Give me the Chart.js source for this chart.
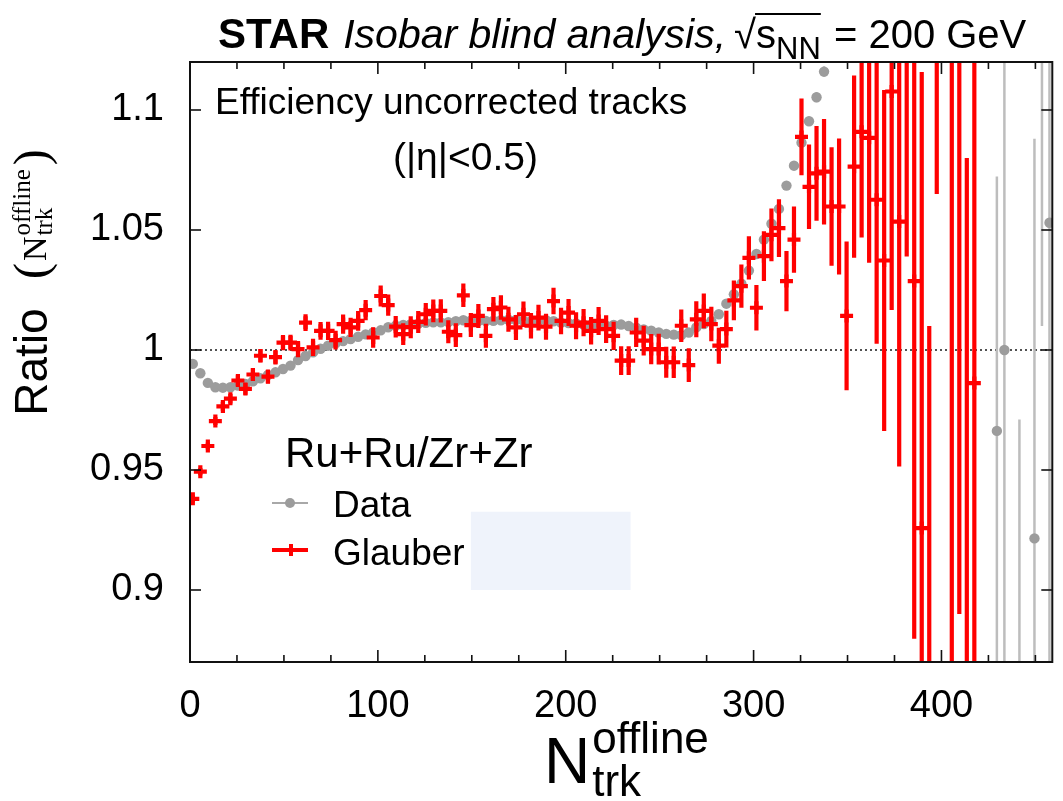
<!DOCTYPE html>
<html>
<head>
<meta charset="utf-8">
<title>Isobar multiplicity ratio</title>
<script src="https://cdn.jsdelivr.net/npm/chart.js@4.4.1/dist/chart.umd.min.js"></script>
<style>
  html, body { margin: 0; padding: 0; background: #ffffff; }
  #box { position: relative; width: 1063px; height: 801px; }
</style>
</head>
<body>
<div id="box"><canvas id="ratioChart" width="1063" height="801"></canvas></div>
<script>
// Bin centres in N_trk^offline (4-track bins)
const nTrkBins = [
  1.5, 5.5, 9.5, 13.5, 17.5, 21.5, 25.5, 29.5, 33.5, 37.5,
  41.5, 45.5, 49.5, 53.5, 57.5, 61.5, 65.5, 69.5, 73.5, 77.5,
  81.5, 85.5, 89.5, 93.5, 97.5, 101.5, 105.5, 109.5, 113.5, 117.5,
  121.5, 125.5, 129.5, 133.5, 137.5, 141.5, 145.5, 149.5, 153.5, 157.5,
  161.5, 165.5, 169.5, 173.5, 177.5, 181.5, 185.5, 189.5, 193.5, 197.5,
  201.5, 205.5, 209.5, 213.5, 217.5, 221.5, 225.5, 229.5, 233.5, 237.5,
  241.5, 245.5, 249.5, 253.5, 257.5, 261.5, 265.5, 269.5, 273.5, 277.5,
  281.5, 285.5, 289.5, 293.5, 297.5, 301.5, 305.5, 309.5, 313.5, 317.5,
  321.5, 325.5, 329.5, 333.5, 337.5, 341.5, 345.5, 349.5, 353.5, 357.5,
  361.5, 365.5, 369.5, 373.5, 377.5, 381.5, 385.5, 389.5, 393.5, 397.5,
  401.5, 405.5, 409.5, 413.5, 417.5, 421.5, 425.5, 429.5, 433.5, 437.5,
  441.5, 445.5, 449.5, 453.5, 457.5
];

// Ru+Ru / Zr+Zr ratio, measured
const dataRatio = [
  0.9942, 0.9903, 0.9863, 0.9845, 0.9843, 0.9845, 0.9852, 0.9859, 0.9870, 0.9882,
  0.9896, 0.9907, 0.9921, 0.9935, 0.9958, 0.9975, 0.9990, 1.0005, 1.0018, 1.0028,
  1.0037, 1.0046, 1.0055, 1.0065, 1.0073, 1.0082, 1.0095, 1.0101, 1.0104, 1.0108,
  1.0110, 1.0113, 1.0115, 1.0115, 1.0116, 1.0120, 1.0124, 1.0122, 1.0121, 1.0121,
  1.0122, 1.0124, 1.0126, 1.0125, 1.0122, 1.0120, 1.0122, 1.0124, 1.0120, 1.0114,
  1.0112, 1.0111, 1.0106, 1.0104, 1.0102, 1.0101, 1.0104, 1.0106, 1.0100, 1.0093,
  1.0086, 1.0080, 1.0073, 1.0067, 1.0064, 1.0062, 1.0073, 1.0094, 1.0108, 1.0121,
  1.0149, 1.0193, 1.0232, 1.0276, 1.0331, 1.0400, 1.0460, 1.0526, 1.0588, 1.0685,
  1.0768, 1.0864, 1.0953, 1.1053, 1.1160, null, null, null, null, null,
  null, null, null, null, null, null, null, null, null, null,
  null, null, null, null, null, null, null, 0.9663, 1.0000, null,
  0.8500, null, 0.9215, 1.1400, 1.0530
];
const dataErr = [
  0.001, 0.001, 0.001, 0.001, 0.001, 0.001, 0.001, 0.001, 0.001, 0.001,
  0.001, 0.001, 0.001, 0.001, 0.001, 0.001, 0.001, 0.001, 0.001, 0.001,
  0.001, 0.001, 0.001, 0.001, 0.001, 0.001, 0.001, 0.001, 0.001, 0.001,
  0.001, 0.001, 0.001, 0.001, 0.001, 0.001, 0.001, 0.001, 0.001, 0.001,
  0.001, 0.001, 0.001, 0.001, 0.001, 0.001, 0.001, 0.001, 0.001, 0.001,
  0.001, 0.001, 0.001, 0.001, 0.001, 0.001, 0.001, 0.001, 0.001, 0.001,
  0.0012, 0.0012, 0.0012, 0.0012, 0.0012, 0.0012, 0.0012, 0.0012, 0.0012, 0.0012,
  0.0014, 0.0014, 0.0014, 0.0014, 0.0015, 0.0015, 0.0015, 0.0016, 0.0016, 0.0017,
  0.0018, 0.0019, 0.002, 0.0021, 0.0022, null, null, null, null, null,
  null, null, null, null, null, null, null, null, null, null,
  null, null, null, null, null, null, null, 0.106, 0.200, null,
  0.121, null, 0.1665, 0.130, 0.200
];

// Glauber model expectation
const glauberRatio = [
  0.9380, 0.9493, 0.9600, 0.9704, 0.9765, 0.9797, 0.9873, 0.9838, 0.9898, 0.9976,
  0.9889, 0.9970, 1.0031, 1.0031, 1.0004, 1.0114, 1.0011, 1.0080, 1.0080, 1.0041,
  1.0108, 1.0094, 1.0121, 1.0166, 1.0052, 1.0225, 1.0187, 1.0097, 1.0066, 1.0095,
  1.0117, 1.0149, 1.0163, 1.0163, 1.0076, 1.0062, 1.0228, 1.0104, 1.0142, 1.0059,
  1.0170, 1.0177, 1.0128, 1.0094, 1.0149, 1.0101, 1.0135, 1.0097, 1.0204, 1.0121,
  1.0156, 1.0101, 1.0114, 1.0080, 1.0121, 1.0087, 1.0059, 0.9956, 0.9956, 1.0073,
  1.0039, 1.0004, 1.0004, 0.9949, 0.9949, 1.0101, 0.9937, 1.0128, 1.0163, 1.0108,
  1.0018, 1.0087, 1.0207, 1.0266, 1.0384, 1.0176, 1.0391, 1.0480, 1.0508, 1.0287,
  1.0460, 1.0888, 1.0680, 1.0736, 1.0743, 1.0598, 1.0598, 1.0142, 1.0764, 1.0909,
  1.0884, 1.0626, 1.0373, 1.1077, 1.0535, 1.1500, 1.0287, 0.9258, 0.8100, 1.2600,
  null, 1.1600, 1.1500, 0.8300, 0.9862, null, null, null, null, null,
  null, null, null, null, null
];
const glauberErr = [
  0.0015, 0.0015, 0.0015, 0.0017, 0.0018, 0.0020, 0.0022, 0.0024, 0.0026, 0.0028,
  0.0030, 0.0030, 0.0032, 0.0033, 0.0034, 0.0035, 0.0036, 0.0037, 0.0038, 0.0039,
  0.0040, 0.0040, 0.0041, 0.0042, 0.0043, 0.0044, 0.0044, 0.0045, 0.0045, 0.0046,
  0.0046, 0.0047, 0.0047, 0.0048, 0.0048, 0.0049, 0.0049, 0.0050, 0.0050, 0.0050,
  0.0051, 0.0051, 0.0052, 0.0052, 0.0053, 0.0053, 0.0054, 0.0054, 0.0055, 0.0055,
  0.0056, 0.0056, 0.0057, 0.0057, 0.0058, 0.0058, 0.0059, 0.0060, 0.0060, 0.0061,
  0.0062, 0.0063, 0.0064, 0.0065, 0.0066, 0.0068, 0.0070, 0.0075, 0.0072, 0.0072,
  0.0075, 0.0077, 0.0083, 0.0090, 0.0090, 0.0095, 0.0104, 0.0110, 0.0120, 0.0126,
  0.0138, 0.0160, 0.0176, 0.0197, 0.0220, 0.0247, 0.0283, 0.0310, 0.0380, 0.0440,
  0.0520, 0.0600, 0.0710, 0.0910, 0.1020, 0.1110, 0.1490, 0.1900, 0.2000, 0.1950,
  null, 0.3600, 0.2600, 0.2500, 0.3000, null, null, null, null, null,
  null, null, null, null, null
];

// Axis ticks
const xMajorTicks = [0, 100, 200, 300, 400];
const xMinorTicks = [25, 50, 75, 125, 150, 175, 225, 250, 275, 325, 350, 375, 425, 450];
const yMajorTicks = [0.9, 0.95, 1, 1.05, 1.1];

const SANS = "'Liberation Sans', Arial, Helvetica, sans-serif";
const SERIF = "'Liberation Serif', 'Times New Roman', serif";
const RED = '#ff0000';
const GREY = '#9c9c9c';

const toPoints = (ys) => nTrkBins.map((x, i) => ({ x: x, y: ys[i] }));

// Vertical error bars, drawn under each dataset's markers
const errorBars = {
  id: 'errorBars',
  beforeDatasetDraw(chart, args) {
    const ds = chart.data.datasets[args.index];
    if (!ds.yErrors) return;
    const { ctx, chartArea: a, scales: { x, y } } = chart;
    ctx.save();
    ctx.beginPath();
    ctx.rect(a.left, a.top, a.right - a.left, a.bottom - a.top);
    ctx.clip();
    ctx.strokeStyle = ds.errorColor;
    ctx.lineWidth = ds.errorWidth;
    ctx.lineCap = 'butt';
    ds.data.forEach((p, i) => {
      const e = ds.yErrors[i];
      if (p.y === null || e === null || e === undefined) return;
      const px = x.getPixelForValue(p.x);
      ctx.beginPath();
      ctx.moveTo(px, y.getPixelForValue(p.y - e));
      ctx.lineTo(px, y.getPixelForValue(p.y + e));
      ctx.stroke();
    });
    ctx.restore();
  }
};

// Frame, inward ticks, unity reference line, shaded box
const frame = {
  id: 'frame',
  beforeDatasetsDraw(chart) {
    const { ctx, chartArea: a, scales: { x, y } } = chart;
    ctx.save();
    // shaded box
    ctx.fillStyle = '#eff3fb';
    const bx0 = x.getPixelForValue(149.5), bx1 = x.getPixelForValue(234.5);
    const by0 = y.getPixelForValue(0.9326), by1 = y.getPixelForValue(0.9);
    ctx.fillRect(bx0, by0, bx1 - bx0, by1 - by0);
    // dotted line at unity
    ctx.strokeStyle = '#1a1a1a';
    ctx.lineWidth = 1.4;
    ctx.setLineDash([2, 3]);
    const y1 = y.getPixelForValue(1);
    ctx.beginPath();
    ctx.moveTo(a.left, y1);
    ctx.lineTo(a.right, y1);
    ctx.stroke();
    ctx.restore();
  },
  afterDraw(chart) {
    const { ctx, chartArea: a, scales: { x, y } } = chart;
    ctx.save();
    ctx.strokeStyle = '#111';
    ctx.lineWidth = 2;
    ctx.strokeRect(a.left, a.top, a.right - a.left, a.bottom - a.top);
    ctx.lineWidth = 1.6;
    const tick = (x0, y0, x1, y1) => { ctx.beginPath(); ctx.moveTo(x0, y0); ctx.lineTo(x1, y1); ctx.stroke(); };
    xMajorTicks.forEach(v => {
      const px = x.getPixelForValue(v);
      tick(px, a.bottom, px, a.bottom - 12);
      tick(px, a.top, px, a.top + 12);
    });
    xMinorTicks.forEach(v => {
      const px = x.getPixelForValue(v);
      tick(px, a.bottom, px, a.bottom - 7);
      tick(px, a.top, px, a.top + 7);
    });
    yMajorTicks.forEach(v => {
      const py = y.getPixelForValue(v);
      tick(a.left, py, a.left + 11, py);
      tick(a.right, py, a.right - 11, py);
    });
    ctx.restore();
  }
};

// Titles, annotation text and legend
const texts = {
  id: 'texts',
  afterDraw(chart) {
    const { ctx } = chart;
    ctx.save();
    ctx.fillStyle = '#000';
    ctx.textAlign = 'left';
    ctx.textBaseline = 'alphabetic';

    // header
    let cx = 218;
    const base = 48;
    ctx.font = 'bold 42px ' + SANS;
    ctx.fillText('STAR', cx, base);
    cx += ctx.measureText('STAR').width + 14;
    ctx.font = 'italic 41px ' + SANS;
    ctx.fillText('Isobar blind analysis,', cx, base);
    cx += ctx.measureText('Isobar blind analysis,').width + 8;
    ctx.font = '40px ' + SANS;
    ctx.fillText('\u221A', cx, base);
    const rootW = ctx.measureText('\u221A').width;
    const barStart = cx + rootW - 1;
    cx += rootW;
    ctx.fillText('s', cx, base);
    cx += ctx.measureText('s').width;
    ctx.font = '31px ' + SANS;
    ctx.fillText('NN', cx, base + 11);
    cx += ctx.measureText('NN').width;
    ctx.lineWidth = 2;
    ctx.strokeStyle = '#000';
    ctx.beginPath();
    ctx.moveTo(barStart, base - 34);
    ctx.lineTo(cx, base - 34);
    ctx.stroke();
    ctx.font = '40px ' + SANS;
    ctx.fillText(' = 200 GeV', cx + 2, base);

    // annotation inside the frame
    ctx.font = '37px ' + SANS;
    ctx.fillText('Efficiency uncorrected tracks', 215, 114);
    ctx.font = '39px ' + SANS;
    ctx.fillText('(|\u03B7|<0.5)', 393, 170);

    // legend
    const [dataSet, glauberSet] = chart.data.datasets;
    ctx.font = '42px ' + SANS;
    ctx.fillText('Ru+Ru/Zr+Zr', 285, 467);
    ctx.font = '37px ' + SANS;
    ctx.fillText(dataSet.label, 333, 517);
    ctx.fillText(glauberSet.label, 333, 565);
    ctx.strokeStyle = '#a8a8a8';
    ctx.lineWidth = 2;
    ctx.beginPath(); ctx.moveTo(272, 503); ctx.lineTo(308, 503); ctx.stroke();
    ctx.fillStyle = GREY;
    ctx.beginPath(); ctx.arc(290, 503, 5, 0, Math.PI * 2); ctx.fill();
    ctx.strokeStyle = RED;
    ctx.lineWidth = 4;
    ctx.beginPath(); ctx.moveTo(272, 550); ctx.lineTo(308, 550); ctx.stroke();
    ctx.beginPath(); ctx.moveTo(291, 544); ctx.lineTo(291, 556); ctx.stroke();

    // x-axis title: N_trk^offline
    ctx.fillStyle = '#000';
    ctx.font = '64px ' + SANS;
    ctx.fillText('N', 544, 783);
    const nW = ctx.measureText('N').width;
    ctx.font = '44px ' + SANS;
    ctx.fillText('offline', 546 + nW, 753);
    ctx.fillText('trk', 546 + nW, 796);

    // y-axis title: Ratio (N_trk^offline)
    ctx.save();
    ctx.translate(47, 362);
    ctx.rotate(-Math.PI / 2);
    ctx.textAlign = 'center';
    ctx.font = '46px ' + SANS;
    ctx.fillText('Ratio', 0, 0);
    ctx.restore();

    ctx.save();
    ctx.translate(47, 279);
    ctx.rotate(-Math.PI / 2);
    ctx.textAlign = 'left';
    let u = 0;
    ctx.font = '48px ' + SERIF;
    ctx.fillText('(', u, 0);
    u += ctx.measureText('(').width + 2;
    ctx.font = '34px ' + SERIF;
    ctx.fillText('N', u, -1);
    u += ctx.measureText('N').width + 1;
    ctx.font = '25px ' + SERIF;
    ctx.fillText('offline', u, -17);
    ctx.fillText('trk', u, 5);
    u += ctx.measureText('offline').width + 4;
    ctx.font = '48px ' + SERIF;
    ctx.fillText(')', u, 0);
    ctx.restore();

    ctx.restore();
  }
};

const chart = new Chart(document.getElementById('ratioChart'), {
  type: 'scatter',
  data: {
    datasets: [
      {
        label: 'Data',
        data: toPoints(dataRatio),
        yErrors: dataErr,
        errorColor: '#bdbdbd',
        errorWidth: 2.5,
        backgroundColor: GREY,
        borderColor: GREY,
        borderWidth: 0,
        pointRadius: 5.2,
        order: 1
      },
      {
        label: 'Glauber',
        data: toPoints(glauberRatio),
        yErrors: glauberErr,
        errorColor: RED,
        errorWidth: 4.2,
        pointStyle: 'cross',
        borderColor: RED,
        backgroundColor: RED,
        borderWidth: 4.2,
        pointRadius: 6.5,
        order: 0
      }
    ]
  },
  options: {
    responsive: false,
    animation: false,
    devicePixelRatio: 1,
    events: [],
    layout: { padding: { top: 62, right: 3, bottom: 0, left: 0 } },
    plugins: { legend: { display: false }, tooltip: { enabled: false }, title: { display: false } },
    scales: {
      x: {
        type: 'linear',
        min: 0,
        max: 459,
        grid: { display: false, drawTicks: false },
        border: { display: false },
        afterBuildTicks: (s) => { s.ticks = xMajorTicks.map(v => ({ value: v })); },
        afterFit: (s) => { s.height = 139; },
        ticks: {
          padding: 22,
          maxRotation: 0,
          color: '#000',
          font: { family: SANS, size: 38 },
          callback: (v) => String(v)
        }
      },
      y: {
        type: 'linear',
        min: 0.87,
        max: 1.12,
        grid: { display: false, drawTicks: false },
        border: { display: false },
        afterBuildTicks: (s) => { s.ticks = yMajorTicks.map(v => ({ value: v })); },
        afterFit: (s) => { s.width = 190; },
        ticks: {
          padding: 26,
          color: '#000',
          font: { family: SANS, size: 38 },
          callback: (v) => String(v)
        }
      }
    }
  },
  plugins: [errorBars, frame, texts]
});
</script>
</body>
</html>
